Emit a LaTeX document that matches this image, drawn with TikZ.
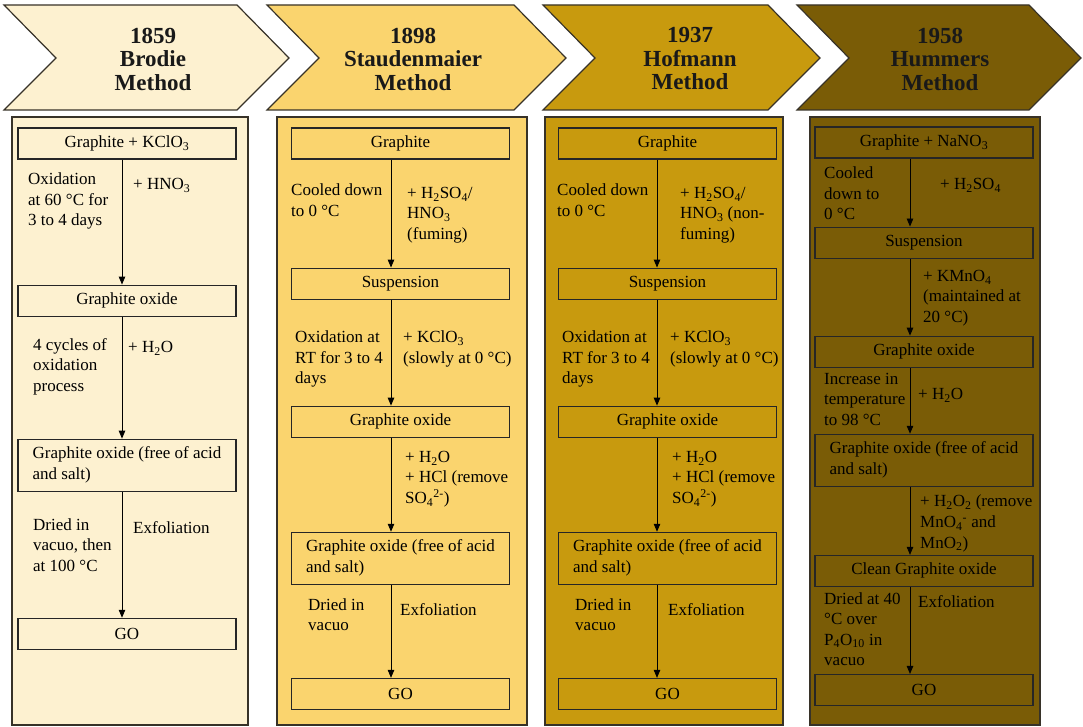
\documentclass[tikz,border=0pt]{standalone}
\usepackage{fontspec}
\setmainfont{Liberation Serif}
\usepackage{xcolor}
\usetikzlibrary{arrows.meta,positioning}
\definecolor{brodiecream}{RGB}{253,241,208}
\definecolor{staudyellow}{RGB}{250,212,110}
\definecolor{hofgold}{RGB}{200,154,14}
\definecolor{humolive}{RGB}{122,92,6}
\definecolor{edgegrey}{RGB}{55,50,40}

\begin{document}
\begin{tikzpicture}[x=1pt, y=-1pt,
    chevron/.style={draw=edgegrey, line width=1.2pt},
    headtxt/.style={font=\fontsize{23}{23.5}\selectfont\bfseries, align=center, text=black!90},
    panel/.style={draw=edgegrey, line width=1.5pt},
    stepbox/.style={rectangle, draw=black!85, line width=1.1pt,
        minimum width=218pt, minimum height=31pt, inner sep=0pt,
        font=\fontsize{17}{21}\selectfont, align=center},
    widebox/.style={stepbox, minimum height=52pt, align=left},
    note/.style={anchor=north west, inner sep=0pt, font=\fontsize{17}{20.5}\selectfont, align=left},
    flow/.style={-{Triangle[length=8pt,width=6.5pt]}, line width=0.9pt}
]
\useasboundingbox (0,0) rectangle (1083,727);

% timeline chevrons
\foreach \l/\r/\c in {4/289/brodiecream, 267/566/staudyellow, 543/820/hofgold, 797/1081/humolive}
    \draw[chevron, fill=\c] (\l,5) -- (\r-52,5) -- (\r,58) -- (\r-52,110) -- (\l,110) -- (\l+52,58) -- cycle;
\node[headtxt] (head1) at (153,59) {1859\\Brodie\\Method};
\node[headtxt] (head2) at (413,59) {1898\\Staudenmaier\\Method};
\node[headtxt] (head3) at (690,59) {1937\\Hofmann\\Method};
\node[headtxt] (head4) at (940,59) {1958\\Hummers\\Method};

% column panels
\draw[panel, fill=brodiecream] (12,117) rectangle (248,725);
\draw[panel, fill=staudyellow] (277,117) rectangle (527,725);
\draw[panel, fill=hofgold] (545,117) rectangle (783,725);
\draw[panel, fill=humolive] (810,117) rectangle (1040,725);

% Brodie
\node[stepbox] (br1) at (127,143.5) {Graphite + KClO\textsubscript{3}};
\node[stepbox, below=125pt of br1] (br2) {Graphite oxide};
\node[widebox, below=122pt of br2] (br3) {Graphite oxide (free of acid\\and salt)};
\node[stepbox, below=126pt of br3] (br4) {GO};
\coordinate (ax1) at (122,0);
\draw[flow] (br1.south -| ax1) -- (br2.north -| ax1);
\draw[flow] (br2.south -| ax1) -- (br3.north -| ax1);
\draw[flow] (br3.south -| ax1) -- (br4.north -| ax1);
\node[note] (brL1) at (28,173) {Oxidation\\at 60 °C for\\3 to 4 days};
\node[note] (brR1) at (133,178) {+ HNO\textsubscript{3}};
\node[note] (brL2) at (33,338) {4 cycles of\\oxidation\\process};
\node[note] (brR2) at (128,341) {+ H\textsubscript{2}O};
\node[note] (brL3) at (33,518) {Dried in\\vacuo, then\\at 100 °C};
\node[note] (brR3) at (133,521) {Exfoliation};

% Staudenmaier
\node[stepbox] (st1) at (400.5,143.5) {Graphite};
\node[stepbox, below=108pt of st1] (st2) {Suspension};
\node[stepbox, below=106pt of st2] (st3) {Graphite oxide};
\node[widebox, below=94pt of st3] (st4) {Graphite oxide (free of acid\\and salt)};
\node[stepbox, below=93pt of st4] (st5) {GO};
\coordinate (ax2) at (391,0);
\draw[flow] (st1.south -| ax2) -- (st2.north -| ax2);
\draw[flow] (st2.south -| ax2) -- (st3.north -| ax2);
\draw[flow] (st3.south -| ax2) -- (st4.north -| ax2);
\draw[flow] (st4.south -| ax2) -- (st5.north -| ax2);
\node[note] (stL1) at (291,184) {Cooled down\\to 0 °C};
\node[note] (stR1) at (407,187) {+ H\textsubscript{2}SO\textsubscript{4}/\\HNO\textsubscript{3}\\(fuming)};
\node[note] (stL2) at (295,331) {Oxidation at\\RT for 3 to 4\\days};
\node[note] (stR2) at (403,331) {+ KClO\textsubscript{3}\\(slowly at 0 °C)};
\node[note] (stR3) at (405,451) {+ H\textsubscript{2}O\\+ HCl (remove\\SO\textsubscript{4}\textsuperscript{2-})};
\node[note] (stL4) at (308,598) {Dried in\\vacuo};
\node[note] (stR4) at (400,603) {Exfoliation};

% Hofmann
\node[stepbox] (hf1) at (667.5,143.5) {Graphite};
\node[stepbox, below=108pt of hf1] (hf2) {Suspension};
\node[stepbox, below=106pt of hf2] (hf3) {Graphite oxide};
\node[widebox, below=94pt of hf3] (hf4) {Graphite oxide (free of acid\\and salt)};
\node[stepbox, below=93pt of hf4] (hf5) {GO};
\coordinate (ax3) at (657,0);
\draw[flow] (hf1.south -| ax3) -- (hf2.north -| ax3);
\draw[flow] (hf2.south -| ax3) -- (hf3.north -| ax3);
\draw[flow] (hf3.south -| ax3) -- (hf4.north -| ax3);
\draw[flow] (hf4.south -| ax3) -- (hf5.north -| ax3);
\node[note] (hfL1) at (557,184) {Cooled down\\to 0 °C};
\node[note] (hfR1) at (680,187) {+ H\textsubscript{2}SO\textsubscript{4}/\\HNO\textsubscript{3} (non-\\fuming)};
\node[note] (hfL2) at (562,331) {Oxidation at\\RT for 3 to 4\\days};
\node[note] (hfR2) at (670,331) {+ KClO\textsubscript{3}\\(slowly at 0 °C)};
\node[note] (hfR3) at (672,451) {+ H\textsubscript{2}O\\+ HCl (remove\\SO\textsubscript{4}\textsuperscript{2-})};
\node[note] (hfL4) at (575,598) {Dried in\\vacuo};
\node[note] (hfR4) at (668,603) {Exfoliation};

% Hummers
\node[stepbox] (hm1) at (924,142.5) {Graphite + NaNO\textsubscript{3}};
\node[stepbox, below=68pt of hm1] (hm2) {Suspension};
\node[stepbox, below=77pt of hm2] (hm3) {Graphite oxide};
\node[widebox, below=66pt of hm3] (hm4) {Graphite oxide (free of acid\\and salt)};
\node[stepbox, below=68pt of hm4] (hm5) {Clean Graphite oxide};
\node[stepbox, below=87pt of hm5] (hm6) {GO};
\coordinate (ax4) at (910,0);
\draw[flow] (hm1.south -| ax4) -- (hm2.north -| ax4);
\draw[flow] (hm2.south -| ax4) -- (hm3.north -| ax4);
\draw[flow] (hm3.south -| ax4) -- (hm4.north -| ax4);
\draw[flow] (hm4.south -| ax4) -- (hm5.north -| ax4);
\draw[flow] (hm5.south -| ax4) -- (hm6.north -| ax4);
\node[note] (hmL1) at (824,167) {Cooled\\down to\\0 °C};
\node[note] (hmR1) at (940,178) {+ H\textsubscript{2}SO\textsubscript{4}};
\node[note] (hmR2) at (923,270) {+ KMnO\textsubscript{4}\\(maintained at\\20 °C)};
\node[note] (hmL3) at (824,373) {Increase in\\temperature\\to 98 °C};
\node[note] (hmR3) at (918,388) {+ H\textsubscript{2}O};
\node[note] (hmR4) at (920,495) {+ H\textsubscript{2}O\textsubscript{2} (remove\\MnO\textsubscript{4}\textsuperscript{-} and\\MnO\textsubscript{2})};
\node[note] (hmL5) at (824,592) {Dried at 40\\°C over\\P\textsubscript{4}O\textsubscript{10} in\\vacuo};
\node[note] (hmR5) at (918,595) {Exfoliation};
\end{tikzpicture}
\end{document}
